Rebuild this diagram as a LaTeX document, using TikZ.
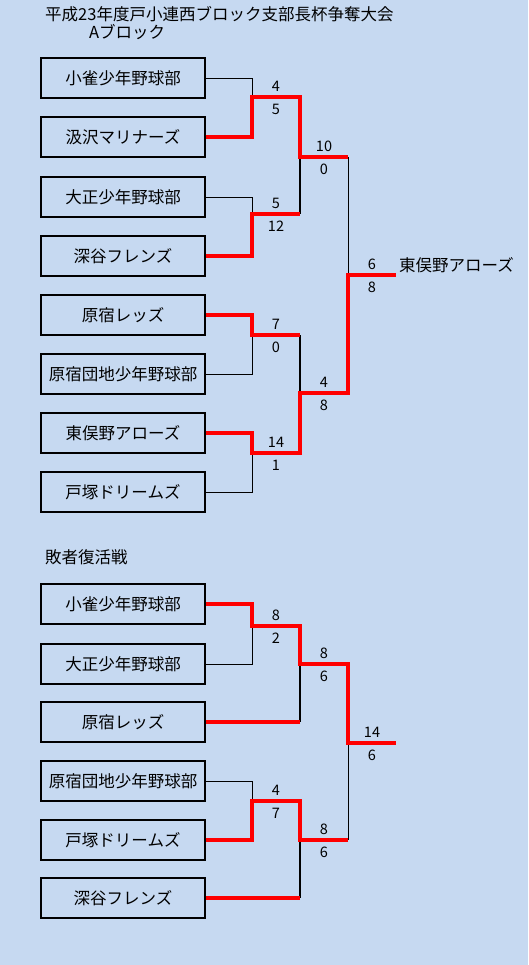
\documentclass[tikz,border=0pt]{standalone}
\usepackage{fontspec}
\setmainfont{Noto Sans CJK JP}
\usetikzlibrary{positioning, calc}
\definecolor{bg_blue}{RGB}{198, 217, 241}
\definecolor{win_red}{RGB}{255, 0, 0}

\begin{document}
\begin{tikzpicture}[x=1pt, y=-1pt, font=\fontsize{16.5}{18}\selectfont,
      team/.style={draw, line width=1.3pt, minimum width=164pt, minimum height=40pt, inner sep=0pt},
      lose/.style={line width=0.8pt},
      lose2/.style={line width=1.6pt},
      win/.style={draw=win_red, line width=4.6pt},
      sc/.style={font=\fontsize{14.5}{15}\selectfont, inner sep=0pt},
      hi/.style={sc, above=3.5pt},
      lo/.style={sc, below=5pt},
      ttl/.style={anchor=west, inner sep=0pt}]
    \fill[bg_blue] (0,0) rectangle (528,965);
    \useasboundingbox (0,0) rectangle (528,965);

    \node[ttl] (title) at (45,14) {平成23年度戸小連西ブロック支部長杯争奪大会};
    \node[ttl] (blockA) at (89,32) {Aブロック};

    % A block teams
    \node[team] (a1) at (123,78)  {小雀少年野球部};
    \node[team] (a2) at (123,137) {汲沢マリナーズ};
    \node[team] (a3) at (123,197) {大正少年野球部};
    \node[team] (a4) at (123,256) {深谷フレンズ};
    \node[team] (a5) at (123,315) {原宿レッズ};
    \node[team] (a6) at (123,374) {原宿団地少年野球部};
    \node[team] (a7) at (123,433) {東俣野アローズ};
    \node[team] (a8) at (123,492) {戸塚ドリームズ};

    \coordinate (m1) at (252,97);   \coordinate (m1o) at (300,97);
    \coordinate (m2) at (252,214);  \coordinate (m2o) at (300,214);
    \coordinate (m3) at (252,335);  \coordinate (m3o) at (300,335);
    \coordinate (m4) at (252,453);  \coordinate (m4o) at (300,453);
    \coordinate (s1) at (300,157);  \coordinate (s1o) at (348,157);
    \coordinate (s2) at (300,393);  \coordinate (s2o) at (348,393);
    \coordinate (f)  at (348,275);  \coordinate (fo)  at (396,275);

    \draw[lose] (a1.east) -| (m1);
    \draw[lose] (a3.east) -| (m2);
    \draw[lose] (a6.east) -| (m3);
    \draw[lose] (a8.east) -| (m4);
    \draw[lose2] (m2o) -- (s1);
    \draw[lose2] (m3o) -- (s2);
    \draw[lose] (s1o) -- (f);

    \draw[win] (a2.east) -| (m1) -- node[hi]{4} node[lo]{5} (m1o) -- (s1)
      -- node[hi]{10} node[lo]{0} (s1o);
    \draw[win] (a4.east) -| (m2) -- node[hi]{5} node[lo]{12} (m2o);
    \draw[win] (a5.east) -| (m3) -- node[hi]{7} node[lo]{0} (m3o);
    \draw[win] (a7.east) -| (m4) -- node[hi]{14} node[lo]{1} (m4o) -- (s2)
      -- node[hi]{4} node[lo]{8} (s2o) -- (f) -- node[hi]{6} node[lo]{8} (fo);
    \node[anchor=west, inner sep=0pt] (champ) at ($(fo)+(3,-10)$) {東俣野アローズ};

    % repechage
    \node[ttl] (title2) at (45,557) {敗者復活戦};

    \node[team] (b1) at (123,604) {小雀少年野球部};
    \node[team] (b2) at (123,664) {大正少年野球部};
    \node[team] (b3) at (123,722) {原宿レッズ};
    \node[team] (b4) at (123,781) {原宿団地少年野球部};
    \node[team] (b5) at (123,840) {戸塚ドリームズ};
    \node[team] (b6) at (123,898) {深谷フレンズ};

    \coordinate (n1) at (252,626);  \coordinate (n1o) at (300,626);
    \coordinate (n2) at (252,801);  \coordinate (n2o) at (300,801);
    \coordinate (t1) at (300,664);  \coordinate (t1o) at (348,664);
    \coordinate (t2) at (300,840);  \coordinate (t2o) at (348,840);
    \coordinate (g)  at (348,743);  \coordinate (go)  at (396,743);

    \draw[lose] (b2.east) -| (n1);
    \draw[lose] (b4.east) -| (n2);
    \draw[lose2] (b3.east -| t1) -- (t1);
    \draw[lose2] (b6.east -| t2) -- (t2);
    \draw[lose] (g) -- (t2o);

    \draw[win] (b1.east) -| (n1) -- node[hi]{8} node[lo]{2} (n1o) -- (t1)
      -- node[hi]{8} node[lo]{6} (t1o) -- (g) -- node[hi]{14} node[lo]{6} (go);
    \draw[win] (b3.east) -- (b3.east -| t1);
    \draw[win] (b5.east) -| (n2) -- node[hi]{4} node[lo]{7} (n2o) -- (t2)
      -- node[hi]{8} node[lo]{6} (t2o);
    \draw[win] (b6.east) -- (b6.east -| t2);
  \end{tikzpicture}
\end{document}
